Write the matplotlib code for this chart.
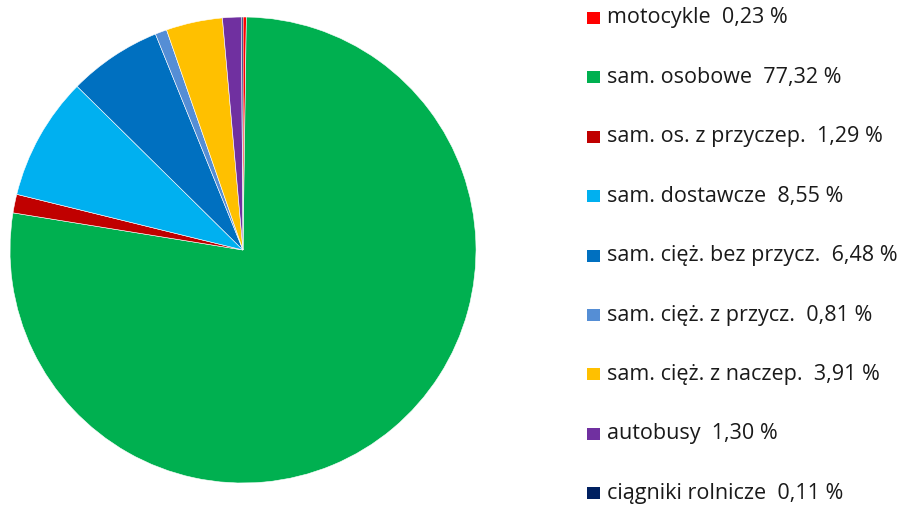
import matplotlib
matplotlib.use("Agg")
import matplotlib.pyplot as plt
from matplotlib.patches import Rectangle

# Data
labels = ['motocykle', 'sam. osobowe', 'sam. os. z przyczep.', 'sam. dostawcze',
          'sam. cięż. bez przycz.', 'sam. cięż. z przycz.', 'sam. cięż. z naczep.',
          'autobusy', 'ciągniki rolnicze']
shares = [0.23, 77.32, 1.29, 8.55, 6.48, 0.81, 3.91, 1.30, 0.11]
colors = ['#FF0000', '#00B050', '#C00000', '#00B0F0', '#0070C0',
          '#558ED5', '#FFC000', '#7030A0', '#002060']

W, H = 903, 505
fig = plt.figure(figsize=(W / 100, H / 100), dpi=100)

# pie: centre (243, 250) px, radius 233 px
cx, cy, r = 243, 250, 233
ax = fig.add_axes([(cx - r) / W, (H - cy - r) / H, 2 * r / W, 2 * r / H])
ax.pie(shares, colors=colors, startangle=90, counterclock=False, radius=1,
       wedgeprops=dict(edgecolor='white', linewidth=0.4))
ax.set_xlim(-1, 1)
ax.set_ylim(-1, 1)
ax.set_aspect('equal')
ax.axis('off')

# legend drawn by hand
for i, (lab, val, col) in enumerate(zip(labels, shares, colors)):
    y = 18 + i * 59.4
    fig.patches.append(Rectangle((587 / W, 1 - (y + 6) / H), 13 / W, 12 / H,
                                 transform=fig.transFigure, facecolor=col,
                                 edgecolor='none'))
    txt = f'{lab}  ' + f'{val:.2f}'.replace('.', ',') + ' %'
    fig.text(607 / W, 1 - y / H, txt, fontsize=15.5, family='Open Sans',
             color='#1a1a1a', va='center', ha='left')

fig.savefig('out.png', dpi=100)
